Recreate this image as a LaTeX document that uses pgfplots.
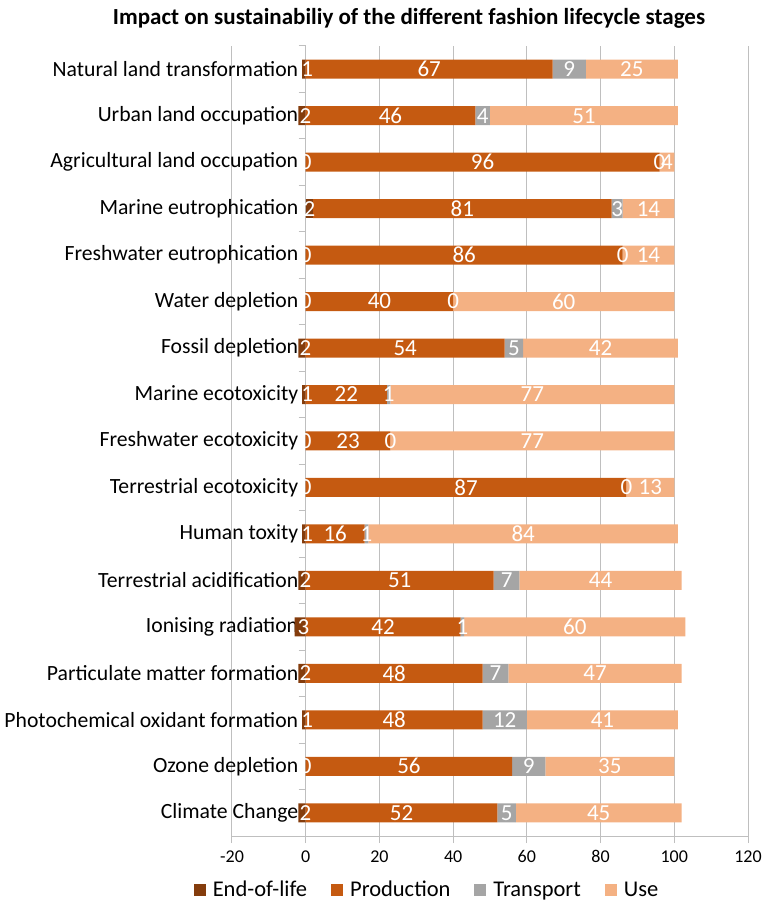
\documentclass[border=0pt]{standalone}
\usepackage{pgfplots}
\pgfplotsset{compat=1.18}
\usepackage{pgfplotstable}
\usepackage{fontspec}
\setmainfont{Carlito}

\definecolor{eol}{HTML}{843C0C}
\definecolor{prod}{HTML}{C55A11}
\definecolor{trans}{HTML}{A5A5A5}
\definecolor{use}{HTML}{F4B183}
\definecolor{gridgray}{HTML}{BFBFBF}

% rows from bottom (0) to top (16); end-of-life is mostly negative
\pgfplotstableread{
idx eol prod trans use
0  -2 52  5 45
1   0 56  9 35
2  -1 48 12 41
3  -2 48  7 47
4  -3 42  1 60
5  -2 51  7 44
6  -1 16  1 84
7   0 87  0 13
8   0 23  0 77
9  -1 22  1 77
10 -2 54  5 42
11  0 40  0 60
12  0 86  0 14
13  2 81  3 14
14  0 96  0  4
15 -2 46  4 51
16 -1 67  9 25
}\impact

\pgfplotsset{
  frame/.style={scale only axis, width=516pt, height=790pt,
    xmin=-20, xmax=120, ymin=-0.5, ymax=16.5},
  seglabel/.style={only marks, mark=none,
    point meta=explicit, nodes near coords,
    nodes near coords style={anchor=center, text=white, inner sep=0pt,
      font=\fontsize{23}{23}\selectfont}},
}

\begin{document}
\begin{tikzpicture}
\useasboundingbox (-232pt,-67pt) rectangle (533pt,836pt);
\begin{axis}[
  frame,
  xbar stacked, bar width=19pt,
  xtick={-20,0,...,120},
  % tick marks between the categories, names as extra ticks
  ytick={-0.5,0.5,...,16.5}, yticklabels={},
  extra y ticks={0,...,16},
  extra y tick labels={Climate Change, Ozone depletion, Photochemical oxidant formation,
    Particulate matter formation, Ionising radiation, Terrestrial acidification,
    Human toxity, Terrestrial ecotoxicity, Freshwater ecotoxicity,
    Marine ecotoxicity, Fossil depletion, Water depletion,
    Freshwater eutrophication, Marine eutrophication,
    Agricultural land occupation, Urban land occupation,
    Natural land transformation},
  extra y tick style={major tick length=0pt},
  axis x line*=bottom, axis y line*=middle,
  hide obscured x ticks=false, hide obscured y ticks=false,
  axis line style={gridgray, line width=1pt},
  xmajorgrids, grid style={gridgray, line width=1pt},
  tick align=outside, major tick length=7pt,
  tick style={gridgray, line width=1pt},
  /pgf/number format/assume math mode=true,
  xticklabel style={font=\fontsize{18}{20}\selectfont, yshift=-4pt},
  yticklabel style={font=\fontsize{21.7}{24}\selectfont, xshift=-4pt},
  title={\bfseries Impact on sustainabiliy of the different fashion lifecycle stages},
  title style={font=\fontsize{23}{26}\selectfont, at={(0.343,1.028)}, anchor=center},
  legend style={at={(0.378,-0.068)}, anchor=center, draw=none, legend columns=4,
    font=\fontsize{22.5}{24}\selectfont,
    /tikz/every odd column/.append style={column sep=5pt},
    /tikz/every even column/.append style={column sep=22pt}},
  legend image code/.code={\fill[#1] (0pt,-6pt) rectangle (12pt,6pt);},
]
% stacked part: positive end-of-life, production, transport, use
\addplot[fill=eol, draw=none] table[x expr={max(\thisrow{eol},0)}, y=idx] {\impact};
\addplot[fill=prod, draw=none] table[x=prod, y=idx] {\impact};
\addplot[fill=trans, draw=none] table[x=trans, y=idx] {\impact};
\addplot[fill=use, draw=none] table[x=use, y=idx] {\impact};
\legend{End-of-life, Production, Transport, Use}
% negative end-of-life, left of zero
\addplot[fill=eol, draw=none, stack plots=false, forget plot]
  table[x expr={min(\thisrow{eol},0)}, y=idx] {\impact};
\end{axis}
% segment labels on an overlaid axis with the same frame
\begin{axis}[frame, hide axis, clip=false,
  /pgf/number format/assume math mode=true]
\addplot[seglabel, point meta={abs(\thisrow{eol})}]
  table[x expr={\thisrow{eol}/2+0.9*(\thisrow{eol}<0)}, y=idx] {\impact};
\addplot[seglabel, point meta={\thisrow{prod}}]
  table[x expr={max(\thisrow{eol},0)+\thisrow{prod}/2}, y=idx] {\impact};
\addplot[seglabel, point meta={\thisrow{trans}}]
  table[x expr={max(\thisrow{eol},0)+\thisrow{prod}+\thisrow{trans}/2}, y=idx] {\impact};
\addplot[seglabel, point meta={\thisrow{use}}]
  table[x expr={max(\thisrow{eol},0)+\thisrow{prod}+\thisrow{trans}+\thisrow{use}/2}, y=idx] {\impact};
\end{axis}
\end{tikzpicture}
\end{document}
